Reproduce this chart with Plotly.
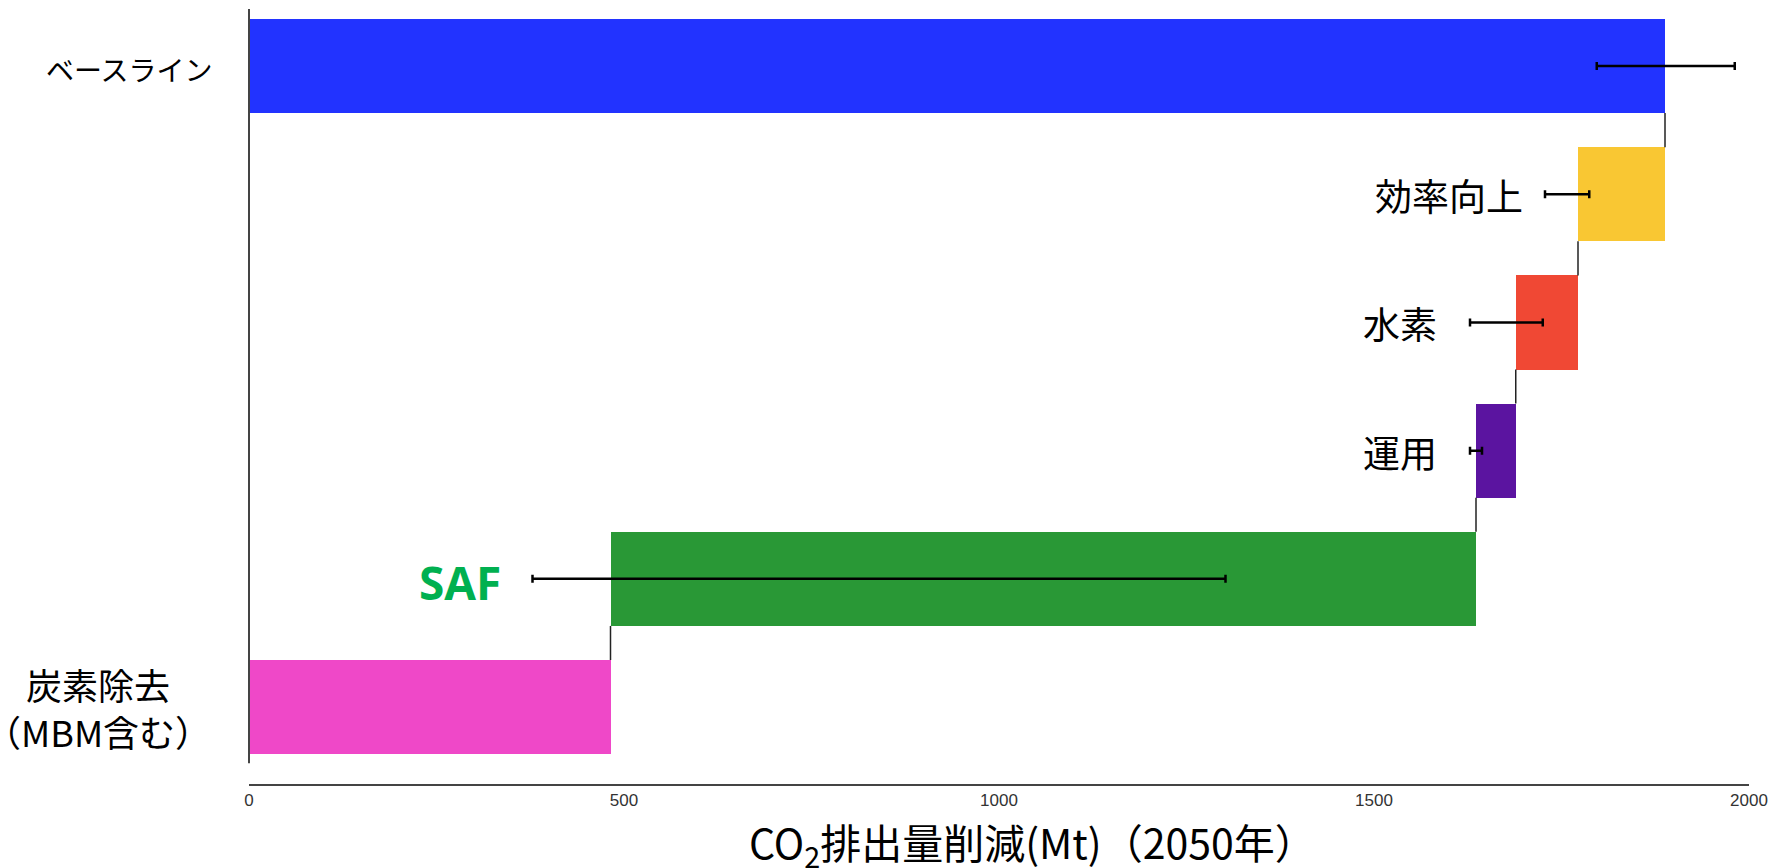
import plotly.graph_objects as go

# ---------------- data ----------------
labels = ["ベースライン", "効率向上", "水素", "運用", "SAF", "炭素除去<br>（MBM含む）"]
measures = ["absolute", "relative", "relative", "relative", "relative", "total"]
values = [1888, -116, -83, -53, -1154, 482]
err_low = [1797, 1728, 1628, 1628, 378, None]
err_high = [1981, 1787, 1725, 1644, 1302, None]
colors = ["#2233ff", "#f9c733", "#f04834", "#5b14a0", "#299836", "#ef48c8"]
x_ticks = [0, 500, 1000, 1500, 2000]
x_title = "CO<sub>2</sub>排出量削減(Mt)（2050年）"

# ---------------- waterfall geometry from values ----------------
bases, lengths, ends = [], [], []
running = 0
for m, v in zip(measures, values):
    if m == "absolute":
        bases.append(0); lengths.append(v); running = v
    elif m == "relative":
        new = running + v
        bases.append(new); lengths.append(-v); running = new
    else:
        bases.append(0); lengths.append(running)
    ends.append(running)

ypos = list(range(len(labels)))
BW = 0.734

fig = go.Figure()
fig.add_trace(go.Bar(
    y=ypos, x=lengths, base=bases, orientation="h", width=BW,
    marker=dict(color=colors, line=dict(width=0)),
    hoverinfo="skip", showlegend=False,
))

# connectors
cx, cy = [], []
for i in range(len(labels) - 1):
    cx += [ends[i], ends[i], None]
    cy += [i + BW / 2, i + 1 - BW / 2, None]
fig.add_trace(go.Scatter(x=cx, y=cy, mode="lines",
                         line=dict(color="#222222", width=1.5),
                         hoverinfo="skip", showlegend=False))

# error bars
ex, ey, ep = [], [], []
for i, (lo, hi) in enumerate(zip(err_low, err_high)):
    if lo is None:
        continue
    ex.append(lo); ey.append(i); ep.append(hi - lo)
fig.add_trace(go.Scatter(
    x=ex, y=ey, mode="markers", marker=dict(size=1, color="rgba(0,0,0,0)"),
    error_x=dict(type="data", symmetric=False, array=ep, arrayminus=[0] * len(ep),
                 color="#000000", thickness=2.5, width=4),
    hoverinfo="skip", showlegend=False,
))

JP = "Noto Sans CJK JP"
ann = []
# labels outside the axis
ann.append(dict(x=-0.0228, xref="paper", y=0, yref="y", text=labels[0],
                xanchor="right", yanchor="middle", yshift=-3, showarrow=False,
                font=dict(family=JP, size=28, color="#000000")))
ann.append(dict(x=-0.1005, xref="paper", y=5, yref="y", text=labels[5],
                xanchor="center", yanchor="middle", align="center", showarrow=False,
                font=dict(family=JP, size=36, color="#000000")))
# labels next to error bars
shifts = {1: -20, 2: -31, 3: -31}
for i in (1, 2, 3):
    ann.append(dict(x=err_low[i], xref="x", y=i, yref="y", text=labels[i],
                    xanchor="right", yanchor="middle", xshift=shifts[i], yshift=-1,
                    showarrow=False, font=dict(family=JP, size=37, color="#000000")))
ann.append(dict(x=err_low[4], xref="x", y=4, yref="y", text="<b>" + labels[4] + "</b>",
                xanchor="right", yanchor="middle", xshift=-30, yshift=-3, showarrow=False,
                font=dict(family="Open Sans", size=46, color="#00b050")))
# x title
ann.append(dict(x=0.522, xref="paper", y=-0.077, yref="paper", text=x_title,
                xanchor="center", yanchor="middle", showarrow=False,
                font=dict(family=JP, size=41, color="#000000")))

# y axis line (shorter than plot area)
shapes = [dict(type="line", xref="paper", yref="paper", x0=0, x1=0,
               y0=0.0267, y1=1, line=dict(color="#444444", width=2))]

fig.update_layout(
    width=1777, height=868,
    margin=dict(l=249, r=22, t=9, b=84),
    paper_bgcolor="white", plot_bgcolor="white",
    xaxis=dict(range=[0, 2000], tickvals=x_ticks, ticktext=[str(t) for t in x_ticks],
               showgrid=False, zeroline=False, showline=True, linecolor="#444444",
               linewidth=2, ticks="", tickfont=dict(family="Liberation Sans", size=17, color="#333333"),
               fixedrange=True),
    yaxis=dict(range=[5.600, -0.445], showticklabels=False, showgrid=False,
               zeroline=False, showline=False, fixedrange=True),
    annotations=ann, shapes=shapes, bargap=0,
)

fig.write_html("out.html")
